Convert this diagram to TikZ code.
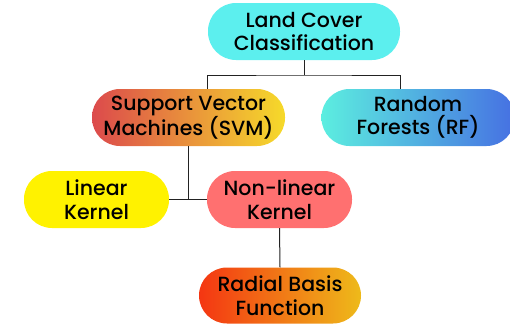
\documentclass[tikz,border=0pt]{standalone}
\usepackage{fontspec}
\setmainfont{Poppins Medium}
\definecolor{lcC}{HTML}{5CEFEE}
\definecolor{svmL}{HTML}{DC4A4C}
\definecolor{svmR}{HTML}{F6DA2A}
\definecolor{rfL}{HTML}{5CEEE0}
\definecolor{rfR}{HTML}{4670E2}
\definecolor{linC}{HTML}{FFF200}
\definecolor{nlC}{HTML}{FF7070}
\definecolor{rbfL}{HTML}{F43612}
\definecolor{rbfR}{HTML}{EEBA1A}
\definecolor{lineC}{HTML}{222222}
\tikzset{
  pill/.style={rounded corners=28pt, minimum height=57pt, inner sep=0pt, align=center,
    font=\fontsize{20.5}{23.5}\selectfont, text=black},
  conn/.style={draw=lineC, line width=1pt}
}
\begin{document}
\begin{tikzpicture}[x=1pt,y=-1pt]
\useasboundingbox (0,0) rectangle (510,324);
\clip (0,0) rectangle (510,324);
\node[pill, fill=lcC, minimum width=192pt] (lc) at (304,31.5) {Land Cover\\Classification};
\node[pill, left color=svmL, right color=svmR, minimum width=193pt] (svm) at (188.5,117.5) {Support Vector\\Machines (SVM)};
\node[pill, left color=rfL, right color=rfR, minimum width=193pt] (rf) at (418,117.5) {Random\\Forests (RF)};
\node[pill, fill=linC, minimum width=145pt] (lin) at (96.5,199.5) {Linear\\Kernel};
\node[pill, fill=nlC, minimum width=145pt] (nl) at (279.5,199.5) {Non-linear\\Kernel};
\node[pill, left color=rbfL, right color=rbfR, minimum width=162pt, minimum height=56pt] (rbf) at (280,295.5) {Radial Basis\\Function};
\coordinate (j1) at (304,75);
\draw[conn] (lc.south) -- (j1);
\draw[conn] (svm.north -| 207,0) |- (j1) -| (rf.north -| 400,0);
\coordinate (j2) at (188.5,199.5);
\draw[conn] (svm.south) -- (j2);
\draw[conn] (lin.east) -- (nl.west);
\draw[conn] (nl.south) -- (rbf.north);
\end{tikzpicture}
\end{document}
